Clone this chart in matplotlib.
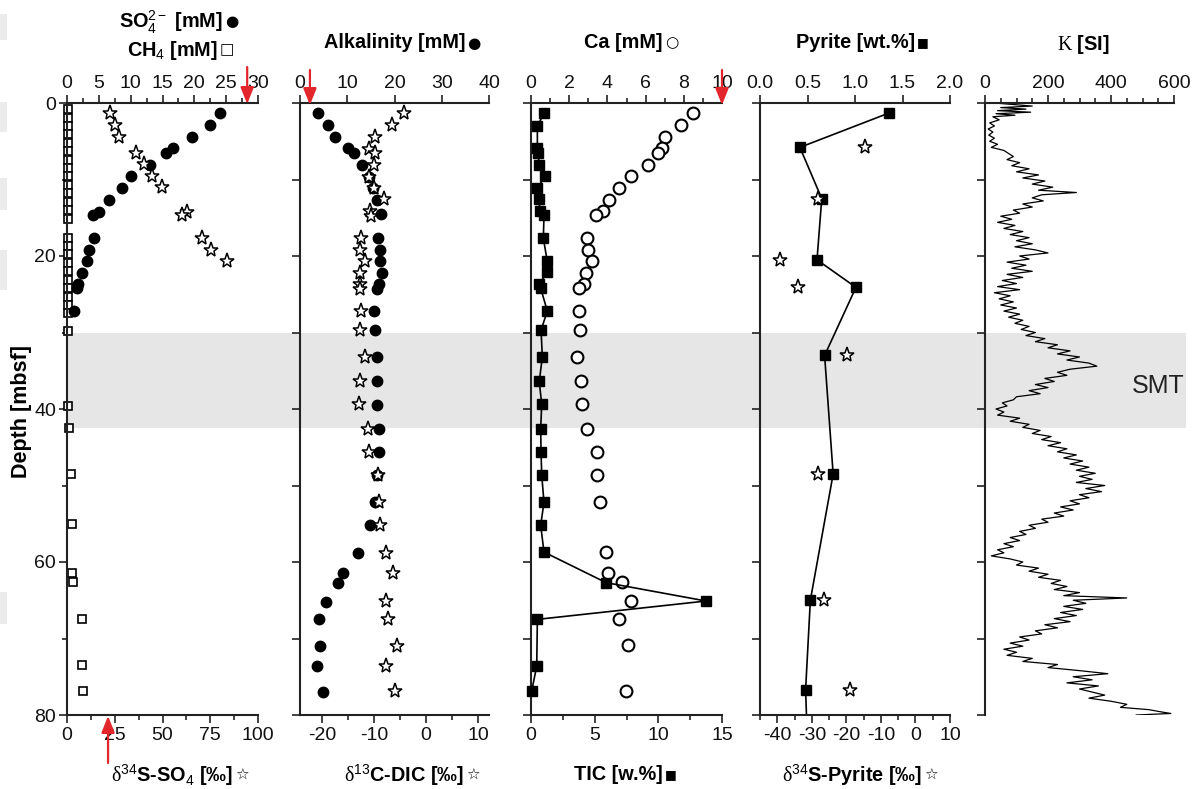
import matplotlib
matplotlib.use('Agg')
import matplotlib.pyplot as plt
import matplotlib.transforms as mtransforms
from matplotlib import font_manager
from matplotlib.patches import Rectangle
from matplotlib.ticker import MultipleLocator, FormatStrFormatter

# ---- data (depth in mbsf) ----
so4_depth = [1.35, 2.9, 4.5, 5.9, 6.5, 8.1, 9.6, 11.1, 12.7, 14.2, 14.7, 17.6, 19.2, 20.7, 22.2, 23.6, 24.2, 27.2]
so4 = [24.1, 22.4, 19.7, 16.7, 15.5, 13.1, 10.1, 8.6, 6.6, 5.1, 4.1, 4.3, 3.4, 3.1, 2.4, 1.7, 1.5, 1.1]

d34s_so4_depth = [1.35, 2.9, 4.5, 6.5, 8.0, 9.6, 11.0, 14.2, 14.7, 17.6, 19.2, 20.7]
d34s_so4 = [22.5, 25.1, 27.4, 36.1, 40.5, 44.3, 49.9, 63.0, 60.0, 70.5, 75.5, 83.6]

ch4_depth = [0.8, 1.9, 3.0, 4.1, 5.2, 6.3, 7.4, 8.5, 9.6, 10.7, 11.8, 12.9, 14.0, 15.1,
             17.6, 18.7, 19.8, 20.9, 22.0, 23.1, 24.2, 25.3, 26.4, 27.5,
             29.8, 39.6, 42.5, 48.5, 55.0, 61.5, 62.6, 67.5, 73.4, 76.8]
ch4 = [0.1, 0.1, 0.1, 0.1, 0.1, 0.1, 0.1, 0.1, 0.1, 0.1, 0.1, 0.1, 0.1, 0.1,
       0.1, 0.1, 0.1, 0.1, 0.1, 0.1, 0.1, 0.1, 0.1, 0.1,
       0.2, 0.2, 0.35, 0.6, 0.8, 0.85, 1.0, 2.4, 2.4, 2.5]

alk_depth = [1.35, 2.9, 4.4, 5.9, 6.5, 8.1, 9.7, 11.1, 12.7, 14.5, 17.6, 19.2, 20.7, 22.2, 23.6, 24.3, 27.2,
             29.7, 33.2, 36.4, 39.5, 42.6, 45.6, 48.6, 52.2, 55.2, 58.8, 61.5, 62.7, 65.2, 67.5, 71.0, 73.6, 77.0]
alk = [3.9, 5.9, 7.4, 10.1, 11.4, 13.1, 14.6, 15.5, 16.4, 17.1, 16.6, 16.9, 16.9, 17.4, 16.8, 16.4, 15.7,
       15.9, 16.4, 16.3, 16.4, 16.8, 16.8, 16.2, 15.9, 14.8, 12.2, 9.0, 8.1, 5.4, 4.0, 4.2, 3.7, 4.8]

dic_depth = [1.35, 2.9, 4.4, 6.0, 6.6, 8.1, 9.7, 11.1, 12.6, 14.1, 14.8, 17.6, 19.2, 20.7, 22.2, 23.6, 24.3,
             27.2, 29.7, 33.2, 36.4, 39.4, 42.6, 45.6, 48.6, 52.2, 55.2, 58.8, 61.5, 65.1, 67.5, 71.0, 73.6, 76.9]
dic = [-4.2, -6.5, -9.7, -10.9, -9.8, -10.0, -10.9, -10.0, -8.1, -10.7, -10.5, -12.4, -12.6, -11.8, -12.6, -12.6, -12.6,
       -12.4, -12.6, -11.8, -12.6, -12.8, -11.1, -11.0, -9.3, -9.1, -8.9, -7.7, -6.4, -7.7, -7.3, -5.5, -7.6, -5.9]

tic_depth = [1.35, 3.0, 5.9, 6.6, 8.1, 9.6, 11.1, 12.6, 14.1, 14.7, 17.7, 20.7, 22.1, 23.7, 24.2, 27.2,
             29.7, 33.2, 36.4, 39.4, 42.6, 45.6, 48.6, 52.2, 55.2, 58.7, 62.7, 65.1, 67.5, 73.6, 76.9]
tic = [1.02, 0.5, 0.5, 0.57, 0.63, 1.1, 0.5, 0.63, 0.7, 1.02, 0.97, 1.28, 1.28, 0.63, 0.76, 1.28,
       0.79, 0.89, 0.65, 0.84, 0.76, 0.79, 0.84, 1.02, 0.76, 1.02, 5.9, 13.75, 0.5, 0.45, 0.05]

ca_depth = [1.35, 2.9, 4.4, 5.9, 6.6, 8.1, 9.6, 11.1, 12.7, 14.1, 14.6, 17.7, 19.2, 20.7, 22.2, 23.6, 24.2,
            27.2, 29.7, 33.2, 36.4, 39.4, 42.6, 45.6, 48.6, 52.2, 58.7, 61.5, 62.6, 65.1, 67.5, 70.9, 76.9]
ca = [8.46, 7.84, 7.0, 6.84, 6.63, 6.14, 5.22, 4.62, 4.1, 3.79, 3.4, 2.92, 3.0, 3.18, 2.86, 2.77, 2.51,
      2.53, 2.57, 2.42, 2.62, 2.65, 2.92, 3.44, 3.44, 3.61, 3.91, 4.02, 4.78, 5.24, 4.62, 5.06, 4.97]

pyr_depth = [1.3, 5.8, 12.5, 20.5, 24.1, 33.0, 48.5, 65.0, 76.7, 84.0]
pyr = [1.36, 0.42, 0.65, 0.6, 1.01, 0.68, 0.77, 0.53, 0.48, 0.5]

d34s_pyr_depth = [5.8, 12.5, 20.5, 24.1, 33.0, 48.5, 65.0, 76.7]
d34s_pyr = [-14.5, -28.1, -39.2, -34.0, -19.8, -28.2, -26.4, -19.0]

k_depth = [0.0, 0.2, 0.4, 0.6, 0.8, 1.0, 1.2, 1.4, 1.6, 1.8, 2.2, 2.6, 3.0, 3.4, 3.8, 4.2, 4.6, 5.0,
           5.4, 5.8, 6.2, 6.6, 7.0, 7.4, 7.8, 8.2, 8.6, 9.0, 9.4, 9.8, 10.2, 10.6, 11.0, 11.4, 11.7, 12.0,
           12.4, 12.8, 13.2, 13.6, 14.0, 14.4, 14.8, 15.2, 15.6, 16.0, 16.4, 16.8, 17.2, 17.6, 18.0, 18.4,
           18.8, 19.2, 19.6, 20.0, 20.4, 20.8, 21.2, 21.6, 22.0, 22.4, 22.8, 23.2, 23.6, 24.0, 24.4, 24.8,
           25.2, 25.6, 26.0, 26.4, 26.8, 27.2, 27.6, 28.0, 28.4, 28.8, 29.2, 29.6, 30.0, 30.4, 30.8, 31.2,
           31.6, 32.0, 32.4, 32.8, 33.2, 33.6, 34.0, 34.4, 34.8, 35.2, 35.6, 36.0, 36.4, 36.8, 37.2, 37.6,
           38.0, 38.4, 38.8, 39.2, 39.6, 40.0, 40.4, 40.8, 41.2, 41.6, 42.0, 42.4, 42.8, 43.2, 43.6, 44.0,
           44.4, 44.8, 45.2, 45.6, 46.0, 46.4, 46.8, 47.2, 47.6, 48.0, 48.4, 48.8, 49.2, 49.6, 50.0, 50.4,
           50.8, 51.2, 51.6, 52.0, 52.4, 52.8, 53.2, 53.6, 54.0, 54.4, 54.8, 55.2, 55.6, 56.0, 56.4, 56.8,
           57.2, 57.6, 58.0, 58.4, 58.8, 59.2, 59.6, 60.0, 60.4, 60.8, 61.2, 61.6, 62.0, 62.4, 62.8, 63.2,
           63.6, 64.0, 64.4, 64.7, 65.0, 65.4, 65.8, 66.2, 66.6, 67.0, 67.4, 67.8, 68.2, 68.6, 69.0, 69.4,
           69.8, 70.2, 70.6, 71.0, 71.4, 71.8, 72.2, 72.6, 73.0, 73.4, 73.8, 74.2, 74.6, 75.0, 75.4, 75.8,
           76.2, 76.6, 77.0, 77.4, 77.8, 78.2, 78.6, 79.0, 79.3, 79.6, 79.8, 80.0]
k_si = [30, 90, 150, 50, 130, 40, 145, 35, 95, 25, 45, 15, 30, 10, 25, 12, 30, 15,
        40, 20, 60, 75, 90, 70, 110, 85, 140, 100, 170, 120, 190, 150, 215, 170, 290, 180,
        150, 185, 120, 150, 90, 110, 50, 85, 40, 95, 60, 120, 80, 140, 100, 150,
        95, 160, 200, 110, 140, 70, 130, 85, 150, 70, 120, 55, 100, 40, 110, 30,
        80, 45, 90, 50, 100, 60, 110, 75, 120, 95, 140, 115, 160, 130, 190, 160,
        230, 200, 270, 230, 300, 260, 330, 355, 270, 230, 260, 190, 220, 160, 200, 140,
        175, 100, 90, 55, 70, 35, 60, 40, 110, 80, 140, 120, 175, 150, 210, 180,
        240, 200, 260, 230, 290, 250, 310, 270, 330, 290, 350, 300, 340, 290, 380, 320,
        370, 300, 330, 270, 300, 240, 280, 220, 250, 180, 200, 140, 160, 110, 130, 80,
        110, 60, 90, 40, 60, 20, 80, 120, 100, 170, 140, 200, 170, 240, 210, 260,
        220, 300, 250, 450, 280, 320, 250, 310, 240, 290, 220, 270, 190, 230, 160, 180,
        110, 140, 80, 120, 60, 100, 70, 150, 120, 230, 200, 300, 390, 280, 340, 260,
        360, 300, 340, 380, 330, 400, 450, 430, 520, 560, 590, 480]

smt_top, smt_base = 30.0, 42.5

# ---- fonts ----
names = {f.name for f in font_manager.fontManager.ttflist}
if 'Liberation Sans Narrow' in names:
    FAM = ['Liberation Sans Narrow', 'Liberation Sans', 'DejaVu Sans']
    TICK, LAB = 16, 16.5
else:
    FAM = ['Liberation Sans', 'DejaVu Sans']
    TICK, LAB = 14, 14.3
plt.rcParams['font.family'] = FAM
plt.rcParams['axes.unicode_minus'] = False
plt.rcParams['mathtext.fontset'] = 'custom'
plt.rcParams['mathtext.rm'] = FAM[0]
plt.rcParams['mathtext.it'] = FAM[0] + ':italic'
plt.rcParams['mathtext.bf'] = FAM[0] + ':bold'
plt.rcParams['mathtext.sf'] = 'Liberation Serif'

W, H = 1203, 789
INK = '#222222'
RED = '#e3262b'
fig = plt.figure(figsize=(W / 100, H / 100), dpi=100)
fig.patch.set_facecolor('white')

Y_TOP, Y_BOT = 103, 715


def style_ticks(a):
    a.tick_params(which='both', direction='out', color=INK, width=1.2, labelsize=TICK, labelcolor='#111111')
    a.tick_params(which='major', length=6, pad=2)
    a.tick_params(which='minor', length=3.5)


def panel(x0, x1, top_lim, top_major, top_minor, bot_lim=None, bot_major=None, bot_minor=None, ylabels=False):
    ax = fig.add_axes([x0 / W, 1 - Y_BOT / H, (x1 - x0) / W, (Y_BOT - Y_TOP) / H])
    ax.set_facecolor('none')
    axb = None
    if bot_lim is not None:
        axb = ax.twiny()
        axb.set_facecolor('none')
        axb.set_xlim(*bot_lim)
        axb.xaxis.set_major_locator(MultipleLocator(bot_major))
        if bot_minor:
            axb.xaxis.set_minor_locator(MultipleLocator(bot_minor))
        for s in axb.spines.values():
            s.set_visible(False)
        axb.spines['bottom'].set_visible(True)
        axb.spines['bottom'].set_color(INK)
        axb.spines['bottom'].set_linewidth(1.5)
        style_ticks(axb)
        axb.tick_params(axis='x', which='both', bottom=True, top=False, labelbottom=True, labeltop=False)
        axb.tick_params(axis='x', which='major', pad=3)
    ax.set_ylim(80, 0)
    ax.set_xlim(*top_lim)
    ax.xaxis.set_major_locator(MultipleLocator(top_major))
    if top_minor:
        ax.xaxis.set_minor_locator(MultipleLocator(top_minor))
    ax.yaxis.set_major_locator(MultipleLocator(20 if ylabels else 10))
    ax.yaxis.set_minor_locator(MultipleLocator(10))
    for s in ax.spines.values():
        s.set_color(INK)
        s.set_linewidth(1.5)
    ax.spines['right'].set_visible(False)
    ax.spines['bottom'].set_visible(False)
    style_ticks(ax)
    ax.tick_params(axis='x', which='both', top=True, bottom=False, labeltop=True, labelbottom=False)
    ax.tick_params(axis='y', which='both', left=True, right=False, labelleft=ylabels, labelright=False)
    return ax, axb


ax1, ax1b = panel(67, 258, (0, 30), 5, 2.5, (0, 100), 25, 12.5, ylabels=True)
ax2, ax2b = panel(300, 489, (0, 40), 10, None, (-24.2, 12.1), 10, 5)
ax3, ax3b = panel(531, 722, (0, 10), 2, 1, (0, 15), 5, 2.5)
ax4, ax4b = panel(760, 950, (0, 2.0), 0.5, None, (-45, 10), 10, 5)
ax5, _ = panel(985, 1174, (0, 600), 200, 50)
ax4.xaxis.set_major_formatter(FormatStrFormatter('%.1f'))

# SMT band behind all panels
band = Rectangle((67 / W, smt_top), (1186 - 67) / W, smt_base - smt_top,
                 transform=mtransforms.blended_transform_factory(fig.transFigure, ax1.transData),
                 facecolor='#e6e6e6', edgecolor='none', zorder=-10)
fig.add_artist(band)
fig.text(1158 / W, 1 - 386 / H, 'SMT', fontsize=18, family=['Liberation Sans', 'DejaVu Sans'],
         ha='center', va='center', color='#222222')

# faint scan remnants on the left margin
for y0, y1 in [(14, 40), (102, 132), (178, 210), (250, 290), (592, 624)]:
    fig.add_artist(Rectangle((0, 1 - y1 / H), 7 / W, (y1 - y0) / H, transform=fig.transFigure,
                             facecolor='#ebebeb', edgecolor='none', zorder=-10))

star = dict(marker='*', ms=11, mfc='white', mec='black', mew=1.1, ls='none', clip_on=False)
dot = dict(marker='o', ms=7.5, mfc='black', mec='black', ls='none', clip_on=False)

# panel 1
ax1.plot(ch4, ch4_depth, marker='s', ms=6, mfc='white', mec='black', mew=1.2, ls='none', clip_on=False)
ax1.plot(so4, so4_depth, **dot)
ax1b.plot(d34s_so4, d34s_so4_depth, **star)

# panel 2
ax2.plot(alk, alk_depth, **dot)
ax2b.plot(dic, dic_depth, **star)

# panel 3
ax3.plot(ca, ca_depth, marker='o', ms=8.5, mfc='white', mec='black', mew=1.5, ls='none', clip_on=False)
ax3b.plot(tic, tic_depth, marker='s', ms=7.5, color='black', lw=1.2, clip_on=False)

# panel 4
ax4.plot(pyr, pyr_depth, marker='s', ms=7.5, color='black', lw=1.2)
ax4b.plot(d34s_pyr, d34s_pyr_depth, **star)

# panel 5
ax5.plot(k_si, k_depth, color='black', lw=0.9)

# red arrows
arw = dict(arrowstyle='-|>,head_width=0.2,head_length=0.5', color=RED, lw=1.6,
           shrinkA=0, shrinkB=0, mutation_scale=20)


def arrow(ax, x, y_tip_px, y_tail_px):
    f_tip = (Y_BOT - y_tip_px) / (Y_BOT - Y_TOP)
    f_tail = (Y_BOT - y_tail_px) / (Y_BOT - Y_TOP)
    ax.annotate('', xy=(x, f_tip), xytext=(x, f_tail), xycoords=ax.get_xaxis_transform(),
                textcoords=ax.get_xaxis_transform(), arrowprops=arw, annotation_clip=False)


arrow(ax1, 28.3, 104, 67)
arrow(ax1b, 21.5, 716, 763)
arrow(ax2, 2.1, 105, 70)
arrow(ax3, 10.0, 105, 70)

# axis titles
SYM = ['DejaVu Sans']


def title(x_right, y, text, sym, sym_size=11):
    fig.text(x_right / W, 1 - y / H, text, fontsize=LAB, fontweight='bold', ha='right', va='center')
    fig.text((x_right + 2) / W, 1 - y / H, sym, fontsize=sym_size, family=SYM, ha='left', va='center')


title(223, 22, r'SO$_4^{2-}$ [mM]', '\u25cf')
title(218, 50, r'CH$_4$ [mM]', '\u25a1')
title(465, 43, 'Alkalinity [mM]', '\u25cf')
title(663, 43, 'Ca [mM]', '\u25cb')
title(915, 43, 'Pyrite [wt.%]', '\u25a0', 9)
fig.text(1083 / W, 1 - 45 / H, r'$\mathsf{K}$ [SI]', fontsize=LAB, fontweight='bold', ha='center', va='center')

title(233, 775, r'$\mathsf{\delta}^{34}$S-SO$_4$ [‰]', '\u2606')
title(464, 775, r'$\mathsf{\delta}^{13}$C-DIC [‰]', '\u2606')
title(663, 775, 'TIC [w.%]', '\u25a0', 9)
title(922, 775, r'$\mathsf{\delta}^{34}$S-Pyrite [‰]', '\u2606')

fig.text(22 / W, 1 - 412 / H, 'Depth [mbsf]', fontsize=15.5, fontweight='bold', rotation=90,
         ha='center', va='center')

fig.savefig('out.png', dpi=100)
